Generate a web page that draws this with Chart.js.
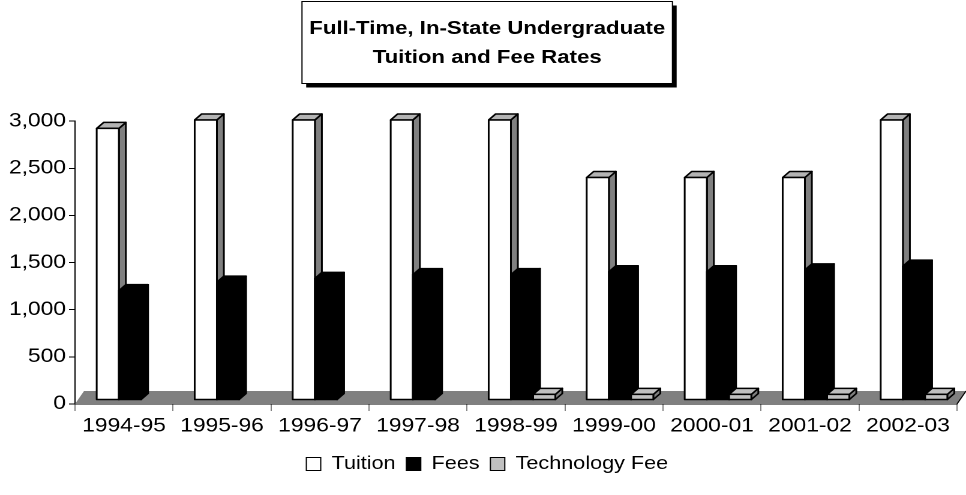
<!DOCTYPE html>
<html>
<head>
<meta charset="utf-8">
<script src="https://cdn.jsdelivr.net/npm/chart.js@4.4.1/dist/chart.umd.min.js"></script>
<style>
  html, body { margin: 0; padding: 0; background: #fff; overflow: hidden; }
  /* the original picture is stretched sideways, so the chart is drawn narrow and widened */
  #wrap { width: 805px; height: 495px; transform: scaleX(1.2); transform-origin: 0 0; }
</style>
</head>
<body>
<div id="wrap"><canvas id="tuitionChart"></canvas></div>
<script>
// values
const years = ['1994-95', '1995-96', '1996-97', '1997-98', '1998-99', '1999-00', '2000-01', '2001-02', '2002-03'];
const tuition = [2880, 2970, 2970, 2970, 2970, 2360, 2360, 2360, 2970];
const fees    = [1160, 1250, 1290, 1330, 1330, 1360, 1360, 1380, 1420];
const techFee = [null, null, null, null, 60, 60, 60, 60, 60];
const yMax = 3000;
const yStep = 500;

const titleLines = ['Full-Time, In-State Undergraduate', 'Tuition and Fee Rates'];

// face colours for the fake 3D columns (front / side / top)
const SHADES = [
    { front: '#ffffff', side: '#808080', top: '#b4b4b4' },   // Tuition
    { front: '#000000', side: '#000000', top: '#000000' },   // Fees
    { front: '#c0c0c0', side: '#808080', top: '#c0c0c0' }    // Technology Fee
];

const DX = 5.8, DY = -6;           // depth of a column
const SHIFT_X = 5, SHIFT_Y = -4;   // columns stand in the middle of the floor
const FLOOR_DX = 7.5, FLOOR_DY = -13;

function poly(ctx, pts, fill) {
    ctx.beginPath();
    ctx.moveTo(pts[0][0], pts[0][1]);
    for (let k = 1; k < pts.length; k++) ctx.lineTo(pts[k][0], pts[k][1]);
    ctx.closePath();
    ctx.fillStyle = fill;
    ctx.fill();
    ctx.stroke();
}

// grey floor + 3D faces drawn on top of the library's bars
const bars3d = {
    id: 'bars3d',
    beforeDatasetsDraw(chart) {
        const { ctx, chartArea: a } = chart;
        ctx.save();
        ctx.fillStyle = '#808080';
        ctx.beginPath();
        ctx.moveTo(a.left, a.bottom);
        ctx.lineTo(a.right, a.bottom);
        ctx.lineTo(a.right + FLOOR_DX, a.bottom + FLOOR_DY);
        ctx.lineTo(a.left + FLOOR_DX, a.bottom + FLOOR_DY);
        ctx.closePath();
        ctx.fill();
        ctx.strokeStyle = '#000';
        ctx.lineWidth = 1;
        ctx.beginPath();
        ctx.moveTo(a.right, a.bottom);
        ctx.lineTo(a.right + FLOOR_DX, a.bottom + FLOOR_DY);
        ctx.stroke();
        ctx.restore();

        ctx.save();
        ctx.translate(SHIFT_X, SHIFT_Y);
    },
    afterDatasetsDraw(chart) {
        const ctx = chart.ctx;
        ctx.lineWidth = 1.5;
        ctx.strokeStyle = '#000';
        ctx.lineJoin = 'round';
        for (let i = 0; i < chart.data.labels.length; i++) {
            chart.data.datasets.forEach((ds, d) => {
                if (ds.data[i] == null) return;
                const el = chart.getDatasetMeta(d).data[i];
                if (!el) return;
                const { x, y, base, width } = el.getProps(['x', 'y', 'base', 'width'], true);
                const l = x - width / 2, r = x + width / 2;
                const sh = SHADES[d];
                poly(ctx, [[r, y], [r + DX, y + DY], [r + DX, base + DY], [r, base]], sh.side);
                poly(ctx, [[l, y], [l + DX, y + DY], [r + DX, y + DY], [r, y]], sh.top);
                poly(ctx, [[l, y], [r, y], [r, base], [l, base]], sh.front);
            });
        }
        ctx.restore();
    }
};

// boxed title with a drop shadow
const titleBox = {
    id: 'titleBox',
    beforeDraw(chart) {
        const tb = chart.titleBlock;
        if (!tb) return;
        const ctx = chart.ctx;
        ctx.save();
        ctx.font = 'bold 18.5px Arial';
        const w = Math.max(...titleLines.map(t => ctx.measureText(t).width)) + 12;
        const cx = (tb.left + tb.right) / 2;
        const x0 = cx - w / 2, y0 = tb.top + 1.5, h = 82;
        ctx.fillStyle = '#000';
        ctx.fillRect(x0 + 3.5, y0 + 4, w, h);
        ctx.fillStyle = '#fff';
        ctx.fillRect(x0, y0, w, h);
        ctx.strokeStyle = '#000';
        ctx.lineWidth = 1;
        ctx.strokeRect(x0, y0, w, h);
        ctx.restore();
    }
};

const tickFont = { family: 'Arial', size: 19 };

new Chart(document.getElementById('tuitionChart'), {
    type: 'bar',
    data: {
        labels: years,
        datasets: [
            { label: 'Tuition', data: tuition, backgroundColor: '#ffffff', borderColor: '#000', borderWidth: 1 },
            { label: 'Fees', data: fees, backgroundColor: '#000000', borderColor: '#000', borderWidth: 1 },
            { label: 'Technology Fee', data: techFee, backgroundColor: '#c0c0c0', borderColor: '#000', borderWidth: 1 }
        ]
    },
    options: {
        responsive: true,
        maintainAspectRatio: false,
        animation: false,
        devicePixelRatio: 2,
        datasets: { bar: { categoryPercentage: 0.68, barPercentage: 1, clip: false } },
        layout: { padding: { left: 7, right: 0, top: 0, bottom: 12 } },
        plugins: {
            title: {
                display: true,
                text: titleLines,
                color: '#000',
                font: { family: 'Arial', size: 18.5, weight: 'bold', lineHeight: 1.56 },
                padding: { top: 14.6, bottom: 48.8 }
            },
            legend: {
                position: 'bottom',
                labels: {
                    color: '#000',
                    font: { family: 'Arial', size: 18 },
                    boxWidth: 12,
                    boxHeight: 13,
                    padding: 9
                }
            },
            tooltip: { enabled: false }
        },
        scales: {
            x: {
                offset: true,
                grid: { display: true, drawOnChartArea: false, offset: true, tickLength: 7, color: '#808080' },
                border: { display: true, color: '#000', width: 1 },
                ticks: { font: tickFont, color: '#000', padding: 4, maxRotation: 0 },
                afterFit(s) { s.height = 42; }
            },
            y: {
                min: 0,
                max: yMax,
                grid: { drawOnChartArea: false, tickLength: 5, color: '#000' },
                border: { display: true, color: '#000', width: 1 },
                ticks: { stepSize: yStep, font: tickFont, color: '#000', padding: 2.5 },
                afterFit(s) { s.width = 55.5; }
            },
            // empty strip on the right where the floor runs out past the last column
            yEdge: {
                position: 'right',
                display: true,
                grid: { display: false },
                border: { display: false },
                ticks: { display: false },
                afterFit(s) { s.width = 7.5; }
            }
        }
    },
    plugins: [bars3d, titleBox]
});
</script>
</body>
</html>
